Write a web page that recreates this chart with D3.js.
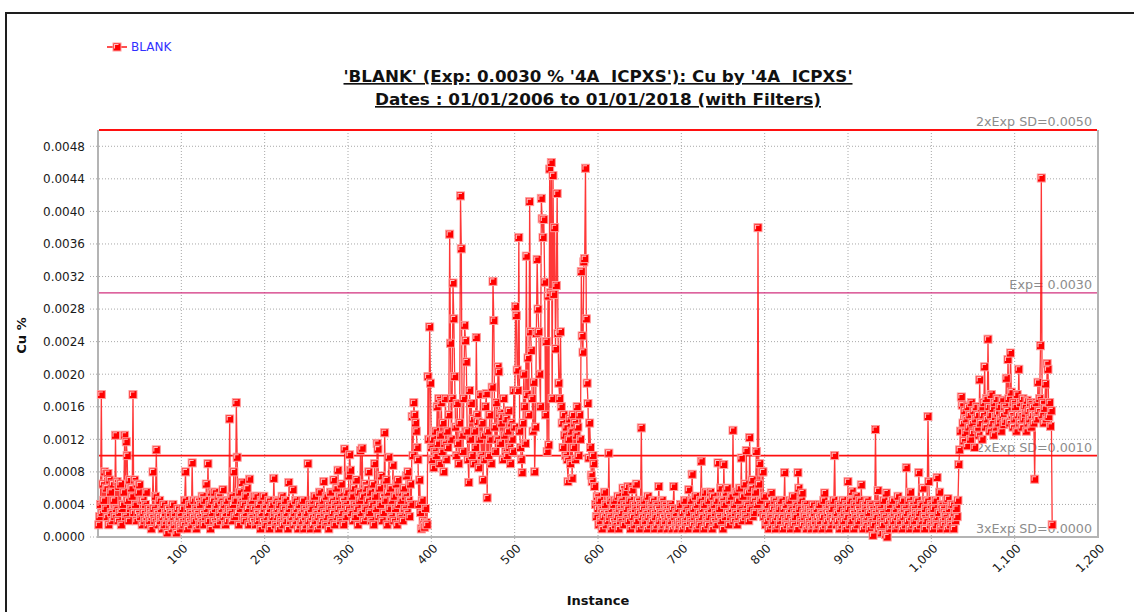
<!DOCTYPE html>
<html>
<head>
<meta charset="utf-8">
<title>BLANK Cu by 4A ICPXS</title>
<script src="https://d3js.org/d3.v7.min.js"></script>
<style>
  body { margin: 0; background: #fff; }
  svg { display: block; font-family: "DejaVu Sans", Verdana, sans-serif; }
  .grid line { stroke: #a8a8a8; stroke-width: 1; stroke-dasharray: 1,2; }
  .tick-label { font-size: 12px; fill: #1a1a1a; }
  .ref-label { font-size: 12.7px; fill: #8c8c8c; }
  .title { font-size: 16.5px; font-weight: bold; text-decoration: underline; fill: #111; white-space: pre; }
  .axis-title { font-size: 13px; font-weight: bold; fill: #111; }
  .legend-label { font-size: 12px; fill: #3030ff; }
</style>
</head>
<body>
<svg id="chart" width="1134" height="612"></svg>
<script>
// ---- data (Cu %, stored in units of 0.00001) ----
const seriesName = "BLANK";
const titleLines = [
  "'BLANK' (Exp: 0.0030 % '4A  ICPXS'): Cu by '4A  ICPXS'",
  "Dates : 01/01/2006 to 01/01/2018 (with Filters)"
];
const xTitle = "Instance";
const yTitle = "Cu %";

// instances 1-395
const lowRunA = [
  15, 25, 40, 175, 30, 65, 45, 80, 35, 60, 25, 78, 15, 70, 55, 30, 20, 65, 45, 25, 125, 35, 68, 20, 62,
  30, 65, 15, 35, 40, 55, 125, 25, 117, 100, 45, 20, 70, 35, 60, 50, 175, 30, 70, 40, 20, 65, 30, 55, 64,
  25, 45, 15, 45, 30, 20, 40, 55, 25, 15, 35, 20, 30, 10, 25, 80, 35, 20, 50, 107, 30, 15, 25, 45, 20,
  35, 10, 25, 40, 15, 30, 20, 5, 35, 25, 15, 30, 20, 10, 40, 25, 15, 30, 5, 20, 35, 15, 25, 10, 30,
  20, 35, 15, 45, 80, 25, 10, 35, 20, 40, 30, 15, 91, 25, 45, 20, 35, 10, 30, 45, 25, 15, 40, 20, 50,
  30, 15, 45, 25, 65, 35, 90, 20, 40, 10, 55, 30, 45, 20, 55, 35, 15, 40, 25, 50, 30, 20, 45, 35, 58,
  25, 40, 15, 30, 45, 20, 35, 145, 30, 50, 20, 40, 80, 25, 45, 165, 98, 30, 15, 55, 35, 45, 67, 25, 40,
  20, 50, 30, 60, 35, 15, 71, 40, 25, 45, 20, 35, 50, 15, 50, 30, 20, 40, 25, 10, 45, 30, 20, 50, 35,
  15, 40, 25, 30, 45, 10, 35, 20, 40, 25, 72, 30, 15, 45, 25, 35, 10, 40, 20, 30, 50, 15, 35, 25, 45,
  20, 30, 10, 67, 35, 20, 40, 25, 58, 15, 30, 45, 20, 35, 10, 25, 40, 15, 30, 20, 45, 10, 35, 25, 15,
  30, 90, 20, 40, 10, 35, 25, 15, 45, 50, 20, 30, 10, 40, 25, 55, 15, 35, 20, 45, 68, 30, 15, 50, 25,
  40, 10, 35, 55, 20, 45, 30, 70, 15, 40, 60, 25, 82, 35, 50, 20, 65, 30, 45, 15, 108, 40, 25, 55, 35,
  75, 101, 82, 30, 50, 20, 60, 40, 25, 70, 35, 15, 55, 45, 106, 30, 109, 50, 20, 65, 35, 60, 25, 45, 80,
  30, 55, 20, 40, 65, 15, 90, 50, 35, 115, 108, 25, 60, 40, 75, 20, 50, 30, 128, 45, 70, 15, 55, 98, 35,
  60, 25, 45, 88, 20, 50, 35, 65, 15, 70, 40, 55, 25, 45, 55, 20, 60, 35, 50, 75, 30, 80, 45, 25, 65,
  40, 148, 100, 165, 150, 140, 130, 110, 95, 40, 70, 30, 10, 45, 20, 15, 12, 35, 18, 15
];

// instances 396-595
const highRun = [
  197, 120, 258, 189, 110, 95, 120, 85, 105, 130, 100, 160, 115, 170, 90, 125, 165, 105, 140, 80, 115, 170, 95, 130, 110,
  150, 372, 238, 120, 170, 312, 268, 197, 135, 100, 164, 115, 90, 140, 419, 354, 125, 105, 170, 260, 241, 215, 130, 95, 67,
  180, 120, 164, 100, 145, 90, 130, 110, 245, 150, 142, 85, 120, 175, 100, 140, 70, 125, 95, 160, 176, 48, 130, 100, 150,
  120, 90, 184, 314, 266, 135, 105, 165, 120, 209, 203, 152, 115, 140, 148, 95, 170, 125, 105, 145, 100, 130, 155, 110, 90,
  140, 120, 105, 180, 135, 283, 272, 205, 180, 368, 130, 110, 95, 79, 140, 200, 160, 115, 345, 175, 220, 150, 412, 252, 229,
  170, 130, 190, 80, 135, 250, 341, 280, 252, 200, 160, 416, 391, 368, 390, 313, 150, 240, 105, 296, 113, 452, 300, 460, 170,
  444, 298, 380, 231, 309, 422, 250, 189, 170, 252, 160, 140, 110, 150, 125, 100, 135, 95, 68, 120, 145, 90, 130, 72, 150,
  110, 140, 95, 125, 160, 135, 100, 150, 120, 326, 247, 227, 338, 342, 453, 268, 189, 164, 97, 140, 110, 76, 68, 100, 90
];

// instances 596-1032
const lowRunB = [
  62, 40, 25, 50, 35, 15, 45, 20, 35, 10, 30, 25, 55, 40, 15, 30, 20, 103, 25, 45, 10, 35, 20, 40, 45,
  15, 30, 25, 50, 10, 35, 20, 45, 30, 60, 15, 40, 55, 25, 35, 62, 20, 45, 10, 30, 58, 25, 40, 15, 35,
  65, 20, 45, 30, 10, 40, 134, 25, 35, 15, 45, 20, 30, 10, 50, 25, 40, 15, 35, 20, 45, 30, 10, 25, 40,
  15, 35, 62, 20, 30, 10, 45, 25, 15, 40, 20, 35, 10, 30, 25, 15, 40, 20, 10, 35, 62, 25, 15, 30, 10,
  20, 35, 15, 40, 25, 10, 30, 20, 45, 15, 35, 25, 10, 58, 30, 20, 45, 77, 15, 35, 25, 50, 10, 40, 20,
  30, 15, 45, 93, 25, 35, 10, 40, 55, 20, 30, 15, 45, 25, 55, 35, 10, 50, 20, 40, 30, 15, 45, 91, 25,
  35, 60, 20, 45, 10, 89, 40, 25, 55, 60, 30, 15, 45, 25, 50, 35, 131, 20, 40, 30, 55, 15, 45, 25, 60,
  35, 97, 20, 50, 30, 65, 25, 106, 40, 55, 20, 122, 35, 60, 70, 25, 45, 30, 55, 105, 40, 380, 65, 90, 45,
  30, 80, 80, 25, 50, 15, 35, 20, 40, 10, 30, 25, 54, 15, 35, 20, 45, 10, 30, 25, 40, 15, 35, 20, 45,
  25, 10, 35, 79, 20, 40, 15, 30, 25, 45, 10, 35, 20, 50, 15, 30, 25, 40, 10, 79, 60, 35, 20, 45, 54,
  15, 30, 25, 40, 10, 35, 20, 35, 15, 30, 10, 25, 40, 15, 30, 20, 10, 35, 25, 15, 40, 20, 30, 10, 25,
  45, 54, 15, 35, 20, 30, 10, 40, 25, 15, 35, 20, 45, 100, 25, 15, 30, 20, 40, 10, 35, 25, 15, 45, 20,
  30, 10, 40, 25, 68, 35, 15, 45, 20, 56, 30, 10, 40, 25, 50, 15, 35, 20, 45, 30, 64, 25, 10, 40, 20,
  35, 15, 45, 25, 30, 10, 40, 20, 35, 2, 15, 30, 132, 25, 40, 57, 10, 35, 20, 5, 30, 15, 45, 25, 3,
  54, 0, 20, 35, 10, 40, 25, 15, 45, 20, 30, 10, 35, 25, 50, 15, 40, 20, 30, 10, 45, 25, 35, 15, 85,
  30, 20, 45, 10, 55, 25, 40, 15, 35, 20, 30, 10, 45, 25, 79, 30, 15, 40, 20, 60, 25, 10, 35, 20, 45,
  148, 68, 30, 15, 40, 25, 10, 35, 20, 45, 15, 73, 25, 30, 55, 10, 40, 20, 35, 15, 30, 25, 45, 10, 47,
  20, 35, 15, 40, 25, 40, 10, 30, 20, 35, 25, 45
];

// instances 1033-1145
const lateRun = [
  89, 107, 130, 172, 162, 140, 118, 155, 128, 145, 112, 160, 135, 150, 120, 165, 140, 128, 155, 110, 145, 160, 132, 150, 125,
  193, 140, 158, 120, 150, 165, 209, 135, 170, 145, 243, 160, 130, 150, 175, 140, 158, 125, 165, 148, 135, 170, 152, 140, 160,
  145, 130, 168, 150, 138, 160, 142, 195, 155, 218, 170, 140, 226, 178, 150, 135, 165, 145, 160, 130, 175, 150, 206, 140, 165,
  150, 135, 170, 145, 160, 152, 130, 168, 140, 155, 145, 165, 135, 150, 160, 140, 71, 150, 165, 145, 190, 155, 170, 235, 441,
  150, 165, 140, 158, 188, 145, 213, 206, 148, 165, 136, 155, 15
];

// control lines
const refValues = [0.0050, 0.0030, 0.0010, 0.0000];
const refLabels = ["2xExp SD=0.0050", "Exp= 0.0030", "2xExp SD=0.0010", "3xExp SD=0.0000"];
const refKinds  = ["sd", "exp", "sd", "sd"];

const yTickValues = [0, 0.0004, 0.0008, 0.0012, 0.0016, 0.0020, 0.0024, 0.0028, 0.0032, 0.0036, 0.0040, 0.0044, 0.0048];
const xTickValues = [100, 200, 300, 400, 500, 600, 700, 800, 900, 1000, 1100, 1200];

// ---- build ----
const data = lowRunA.concat(highRun, lowRunB, lateRun)
  .map((v, i) => ({ instance: i + 1, value: v / 100000 }));

const svg = d3.select("#chart");
const plot = { left: 98, right: 1098, top: 130, bottom: 537 };

const x = d3.scaleLinear().domain([0, 1200]).range([plot.left, plot.right]);
const y = d3.scaleLinear().domain([0, 0.0050]).range([plot.bottom, plot.top]);

svg.append("rect").attr("width", 1134).attr("height", 612).attr("fill", "#fff");

// outer frame
svg.append("rect")
  .attr("x", 6).attr("y", 13).attr("width", 1150).attr("height", 640)
  .attr("fill", "none").attr("stroke", "#1e1e1e").attr("stroke-width", 2);

// gridlines
const grid = svg.append("g").attr("class", "grid");
grid.selectAll(".gy").data(yTickValues.filter(d => d > 0)).join("line")
  .attr("x1", plot.left - 8).attr("x2", plot.right)
  .attr("y1", d => y(d)).attr("y2", d => y(d));
grid.selectAll(".gx").data(xTickValues.filter(d => d < 1200)).join("line")
  .attr("x1", d => x(d)).attr("x2", d => x(d))
  .attr("y1", plot.top).attr("y2", plot.bottom + 6);
grid.append("line")
  .attr("x1", plot.left - 8).attr("x2", plot.left)
  .attr("y1", y(0)).attr("y2", y(0));

// plot frame (gray)
svg.append("path")
  .attr("d", `M${plot.left},${plot.top}V${plot.bottom}H${plot.right}V${plot.top}`)
  .attr("fill", "none").attr("stroke", "#b4b4b4").attr("stroke-width", 2);

// y tick labels
svg.append("g").selectAll("text").data(yTickValues).join("text")
  .attr("class", "tick-label")
  .attr("x", plot.left - 13).attr("y", d => y(d)).attr("dy", "0.36em")
  .attr("text-anchor", "end")
  .text(d3.format(".4f"));

// x tick labels (rotated)
svg.append("g").selectAll("text").data(xTickValues).join("text")
  .attr("class", "tick-label")
  .attr("text-anchor", "end")
  .attr("transform", d => `translate(${x(d) + 4},${plot.bottom + 9}) rotate(-45)`)
  .attr("dy", "0.36em")
  .text(d3.format(","));

// axis titles
svg.append("text").attr("class", "axis-title")
  .attr("text-anchor", "middle")
  .attr("transform", `translate(26,${(plot.top + plot.bottom) / 2 + 2}) rotate(-90)`)
  .text(yTitle);
svg.append("text").attr("class", "axis-title")
  .attr("x", (plot.left + plot.right) / 2).attr("y", 605)
  .attr("text-anchor", "middle")
  .text(xTitle);

// title
const titleWidths = [509, 446];
svg.append("g").selectAll("text").data(titleLines).join("text")
  .attr("class", "title")
  .attr("x", (plot.left + plot.right) / 2)
  .attr("y", (d, i) => 82 + i * 23)
  .attr("text-anchor", "middle")
  .attr("textLength", (d, i) => titleWidths[i])
  .attr("lengthAdjust", "spacingAndGlyphs")
  .text(d => d);

// control lines and labels (under the data)
const refColor = k => k === "exp" ? "#d2307e" : "#ff1010";
svg.append("g").selectAll("line").data(refValues).join("line")
  .attr("x1", plot.left + 1).attr("x2", plot.right - 1)
  .attr("y1", d => y(d)).attr("y2", d => y(d))
  .attr("stroke", (d, i) => refColor(refKinds[i]))
  .attr("stroke-width", (d, i) => refKinds[i] === "exp" ? 1.3 : 1.8)
  .attr("opacity", d => d === 0 ? 0 : 1);
svg.append("g").selectAll("text").data(refLabels).join("text")
  .attr("class", "ref-label")
  .attr("x", plot.right - 6)
  .attr("y", (d, i) => y(refValues[i]) - 4)
  .attr("text-anchor", "end")
  .text(d => d);

// series line
const line = d3.line().x(d => x(d.instance)).y(d => y(d.value));
svg.append("path").datum(data)
  .attr("d", line)
  .attr("fill", "none")
  .attr("stroke", "#ff1414")
  .attr("stroke-opacity", 0.85)
  .attr("stroke-width", 1.3);

// markers
function drawMarker(g, cx, cy) {
  g.append("rect")
    .attr("x", cx - 4).attr("y", cy - 4).attr("width", 8).attr("height", 8)
    .attr("fill", "#f00").attr("stroke", "#ff9c9c").attr("stroke-width", 1);
  g.append("path")
    .attr("d", `M${cx - 2.5},${cy + 1.5}V${cy - 2.5}H${cx + 1.5}`)
    .attr("fill", "none").attr("stroke", "#fff").attr("stroke-opacity", 0.75).attr("stroke-width", 1.1);
}
const markers = svg.append("g");
data.forEach(d => drawMarker(markers, x(d.instance), y(d.value)));

// legend
const legend = svg.append("g");
legend.append("line").attr("x1", 107).attr("x2", 127).attr("y1", 47).attr("y2", 47)
  .attr("stroke", "#ff1414").attr("stroke-width", 1.5);
drawMarker(legend, 117, 47);
legend.append("text").attr("class", "legend-label")
  .attr("x", 131).attr("y", 47).attr("dy", "0.36em")
  .text(seriesName);
</script>
</body>
</html>
